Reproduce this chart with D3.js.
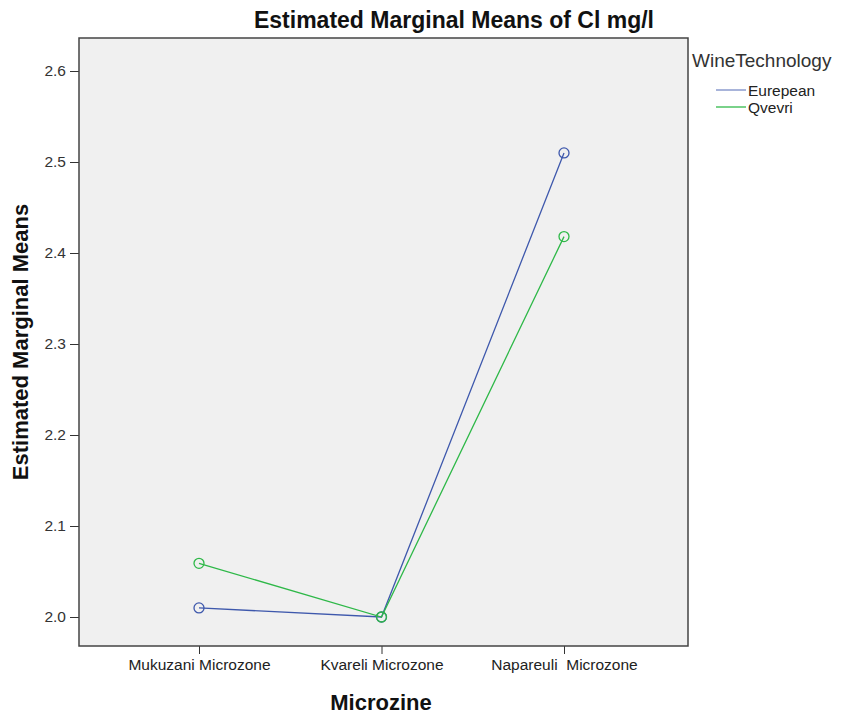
<!DOCTYPE html>
<html>
<head>
<meta charset="utf-8">
<script src="https://cdn.jsdelivr.net/npm/d3@7"></script>
<style>
  body { margin: 0; background: #fff; }
  text { font-family: "Liberation Sans", Arial, sans-serif; }
</style>
</head>
<body>
<div id="chart"></div>
<script>
// data
const zones = ["Mukuzani Microzone", "Kvareli Microzone", "Napareuli  Microzone"];
const techs = ["Eurepean", "Qvevri"];
const eurepean = [2.010, 2.000, 2.510];
const qvevri = [2.059, 2.000, 2.418];
const yTicks = [2.0, 2.1, 2.2, 2.3, 2.4, 2.5, 2.6];
const colors = ["#3e58ac", "#2eb848"];

const W = 841, H = 715;
const plot = {left: 79, top: 38, right: 688, bottom: 646};

const svg = d3.select("#chart").append("svg")
  .attr("width", W).attr("height", H);

const x = d3.scalePoint()
  .domain(zones)
  .range([199, 564]);

const y = d3.scaleLinear()
  .domain([2.0, 2.6])
  .range([617, 71]);

// plot background
svg.append("rect")
  .attr("x", plot.left).attr("y", plot.top)
  .attr("width", plot.right - plot.left).attr("height", plot.bottom - plot.top)
  .attr("fill", "#f0f0f0");

// y axis
const yAxis = svg.append("g")
  .attr("transform", "translate(" + plot.left + ",0)")
  .call(d3.axisLeft(y).tickValues(yTicks).tickFormat(d3.format(".1f")).tickSize(9).tickPadding(4));
yAxis.select(".domain").remove();
yAxis.selectAll("line").attr("stroke", "#333");
yAxis.selectAll("text").attr("font-size", 15.5).attr("fill", "#333")
  .attr("font-family", "Liberation Sans, Arial, sans-serif");

// x axis
const xAxis = svg.append("g")
  .attr("transform", "translate(0," + plot.bottom + ")")
  .call(d3.axisBottom(x).tickSize(8).tickPadding(5));
xAxis.select(".domain").remove();
xAxis.selectAll("line").attr("stroke", "#333");
xAxis.selectAll("text").attr("font-size", 15.5).attr("fill", "#222")
  .attr("font-family", "Liberation Sans, Arial, sans-serif")
  .style("white-space", "pre");

// frame
svg.append("rect")
  .attr("x", plot.left).attr("y", plot.top)
  .attr("width", plot.right - plot.left).attr("height", plot.bottom - plot.top)
  .attr("fill", "none").attr("stroke", "#444").attr("stroke-width", 1.5);

// series
const series = [eurepean, qvevri];
const line = d3.line()
  .x((d, i) => x(zones[i]))
  .y(d => y(d));

series.forEach((vals, s) => {
  svg.append("path")
    .datum(vals)
    .attr("d", line)
    .attr("fill", "none")
    .attr("stroke", colors[s])
    .attr("stroke-width", 1.3);
  svg.selectAll(".pt" + s)
    .data(vals)
    .enter().append("circle")
    .attr("class", "pt" + s)
    .attr("cx", (d, i) => x(zones[i]))
    .attr("cy", d => y(d))
    .attr("r", 5)
    .attr("fill", "none")
    .attr("stroke", colors[s])
    .attr("stroke-width", 1.3);
});

// titles
svg.append("text")
  .attr("x", 454).attr("y", 28)
  .attr("text-anchor", "middle")
  .attr("font-size", 23).attr("font-weight", "bold")
  .attr("fill", "#111")
  .text("Estimated Marginal Means of Cl mg/l");

svg.append("text")
  .attr("transform", "translate(28," + ((plot.top + plot.bottom) / 2) + ") rotate(-90)")
  .attr("text-anchor", "middle")
  .attr("font-size", 22).attr("font-weight", "bold")
  .attr("fill", "#111")
  .text("Estimated Marginal Means");

svg.append("text")
  .attr("x", 381).attr("y", 710)
  .attr("text-anchor", "middle")
  .attr("font-size", 22).attr("font-weight", "bold")
  .attr("fill", "#111")
  .text("Microzine");

// legend
const leg = svg.append("g");
leg.append("text")
  .attr("x", 692).attr("y", 67)
  .attr("font-size", 19).attr("fill", "#333")
  .text("WineTechnology");
techs.forEach((t, i) => {
  const ly = 90 + i * 17;
  leg.append("line")
    .attr("x1", 716).attr("x2", 746)
    .attr("y1", ly).attr("y2", ly)
    .attr("stroke", colors[i]).attr("stroke-opacity", i == 0 ? 0.6 : 0.85)
    .attr("stroke-width", 1.5);
  leg.append("text")
    .attr("x", 748).attr("y", ly + 6)
    .attr("font-size", 15.5).attr("fill", "#222")
    .text(t);
});
</script>
</body>
</html>
